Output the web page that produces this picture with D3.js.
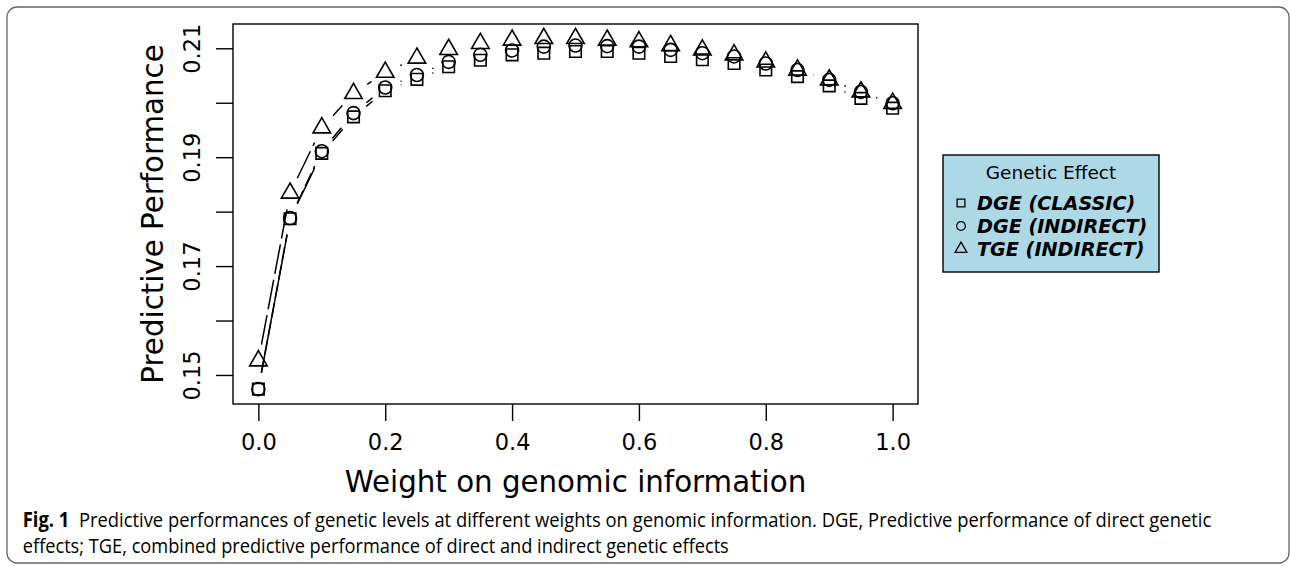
<!DOCTYPE html>
<html><head><meta charset="utf-8">
<script src="https://cdn.jsdelivr.net/npm/d3@7"></script>
<style>html,body{margin:0;padding:0;background:#fff;}svg{display:block;}</style>
</head><body>
<svg id="chart" width="1290" height="566"></svg>
<script>
const weights = [0,0.05,0.1,0.15,0.2,0.25,0.3,0.35,0.4,0.45,0.5,0.55,0.6,0.65,0.7,0.75,0.8,0.85,0.9,0.95,1.0];
const dgeClassic = [0.1474,0.1787,0.1907,0.1974,0.2022,0.2043,0.2066,0.2078,0.2088,0.2091,0.2094,0.2094,0.2091,0.2085,0.2079,0.2072,0.2060,0.2048,0.2031,0.2008,0.1990];
const dgeIndirect = [0.1474,0.1788,0.1911,0.1981,0.2028,0.2051,0.2075,0.2088,0.2096,0.2103,0.2105,0.2104,0.2103,0.2097,0.2091,0.2085,0.2072,0.2060,0.2042,0.2020,0.1999];
const tgeIndirect = [0.1526,0.1834,0.1954,0.2017,0.2056,0.2082,0.2098,0.2109,0.2115,0.2118,0.2118,0.2115,0.2112,0.2105,0.2097,0.2088,0.2075,0.2060,0.2042,0.2020,0.1999];
const seriesNames = ["DGE (CLASSIC)","DGE (INDIRECT)","TGE (INDIRECT)"];
const seriesShapes = ["square","circle","triangle"];
const xTicks = [0,0.2,0.4,0.6,0.8,1.0];
const yTicks = [0.15,0.16,0.17,0.18,0.19,0.20,0.21];
const yTickLabels = ["0.15","","0.17","","0.19","","0.21"];
const xLabel = "Weight on genomic information";
const yLabel = "Predictive Performance";
const legendTitle = "Genetic Effect";
const captionBold = "Fig. 1";
const captionLine1 = "Predictive performances of genetic levels at different weights on genomic information. DGE, Predictive performance of direct genetic";
const captionLine2 = "effects; TGE, combined predictive performance of direct and indirect genetic effects";

const svg = d3.select("#chart");
const FONT = "DejaVu Sans, sans-serif";
const L = 233, R = 918, T = 24, B = 404;
const x = d3.scaleLinear().domain([-0.04, 1.04]).range([L, R]);
const y = d3.scaleLinear().domain([0.14467, 0.21446]).range([B, T]);

// outer frame
svg.append("rect").attr("x",7).attr("y",7).attr("width",1282).attr("height",556)
  .attr("rx",10).attr("fill","none").attr("stroke","#666").attr("stroke-width",1.3);

// plot box
svg.append("rect").attr("x",L).attr("y",T).attr("width",R-L).attr("height",B-T)
  .attr("fill","none").attr("stroke","#000").attr("stroke-width",1.4);

// axes
const xAxis = svg.append("g").attr("transform",`translate(0,${B})`)
  .call(d3.axisBottom(x).tickValues(xTicks).tickSize(17).tickFormat(d3.format(".1f")));
xAxis.select(".domain").remove();
xAxis.selectAll("line").attr("stroke","#000").attr("stroke-width",1.4);
xAxis.selectAll("text").attr("font-family",FONT).attr("font-size",22.5).attr("fill","#000")
  .attr("y",46).attr("dy",0);

const yAxis = svg.append("g").attr("transform",`translate(${L},0)`)
  .call(d3.axisLeft(y).tickValues(yTicks).tickSize(17).tickFormat((d,i)=>yTickLabels[i]));
yAxis.select(".domain").remove();
yAxis.selectAll("line").attr("stroke","#000").attr("stroke-width",1.4);
yAxis.selectAll("text").attr("font-family",FONT).attr("font-size",22.5).attr("fill","#000")
  .attr("x",null).attr("dy",null).attr("text-anchor","middle")
  .attr("transform","translate(-33,0) rotate(-90)");

// axis titles
svg.append("text").attr("x",(L+R)/2).attr("y",491.7).attr("text-anchor","middle")
  .attr("font-family",FONT).attr("font-size",29.3).text(xLabel);
svg.append("text").attr("transform",`translate(163,${(T+B)/2}) rotate(-90)`).attr("text-anchor","middle")
  .attr("font-family",FONT).attr("font-size",29.3).text(yLabel);

// markers & gapped lines
const RAD = 6.5;
function shapePath(shape, r){
  if(shape==="square"){const h=0.8862*r;return `M${-h},${-h}H${h}V${h}H${-h}Z`;}
  if(shape==="circle"){return `M${r},0A${r},${r} 0 1,1 ${-r},0A${r},${r} 0 1,1 ${r},0Z`;}
  const rr=1.5551*r, xc=1.3468*r, yc=0.7776*r;
  return `M0,${-rr}L${xc},${yc}L${-xc},${yc}Z`;
}
const allSeries = [dgeClassic, dgeIndirect, tgeIndirect];
const dashes = [null, "14,5", "30,6"];
const GAP = 16.5;
allSeries.forEach((vals, si) => {
  const g = svg.append("g");
  const pts = weights.map((w,i)=>[x(w), y(vals[i])]);
  for(let i=0;i<pts.length-1;i++){
    const [x1,y1]=pts[i],[x2,y2]=pts[i+1];
    const d=Math.hypot(x2-x1,y2-y1);
    if(d<=2*GAP) continue;
    const ux=(x2-x1)/d, uy=(y2-y1)/d;
    g.append("line").attr("x1",x1+ux*GAP).attr("y1",y1+uy*GAP)
      .attr("x2",x2-ux*GAP).attr("y2",y2-uy*GAP)
      .attr("stroke","#000").attr("stroke-width",1.5)
      .attr("stroke-dasharray",dashes[si]);
  }
  g.selectAll("path.m").data(pts).enter().append("path").attr("class","m")
    .attr("transform",d=>`translate(${d[0]},${d[1]})`)
    .attr("d",shapePath(seriesShapes[si],RAD))
    .attr("fill","none").attr("stroke","#000").attr("stroke-width",1.6);
});

// legend
const lg = svg.append("g");
lg.append("rect").attr("x",943).attr("y",155).attr("width",216).attr("height",117)
  .attr("fill","#ADD8E6").attr("stroke","#000").attr("stroke-width",1.4);
lg.append("text").attr("x",1051).attr("y",179).attr("text-anchor","middle")
  .attr("font-family",FONT).attr("font-size",18.5).text(legendTitle);
seriesNames.forEach((nm,i)=>{
  const yy = 203 + i*23;
  lg.append("path").attr("transform",`translate(961,${yy})`)
    .attr("d",shapePath(seriesShapes[i],4.4)).attr("fill","none").attr("stroke","#000").attr("stroke-width",1.3);
  lg.append("text").attr("x",977).attr("y",yy+7).attr("font-family",FONT)
    .attr("font-size",19.2).attr("font-weight","bold").attr("font-style","italic").text(nm);
});

// caption (humanist sans, horizontally condensed to the reference width)
const CF = "Open Sans, Noto Sans, sans-serif";
function fitText(sel, x0, target){
  const w = sel.node().getComputedTextLength();
  const s = target / w;
  sel.attr("x",0).attr("transform",`translate(${x0},0) scale(${s},1)`);
}
const c1 = svg.append("text").attr("y",526.7).attr("font-family",CF).attr("font-size",20.5);
c1.append("tspan").attr("font-weight","bold").text(captionBold);
c1.append("tspan").text("\u00a0\u00a0"+captionLine1);
fitText(c1, 22.7, 1189);
const c2 = svg.append("text").attr("y",553).attr("font-family",CF).attr("font-size",20.5).text(captionLine2);
fitText(c2, 22.7, 707);
</script>
</body></html>
